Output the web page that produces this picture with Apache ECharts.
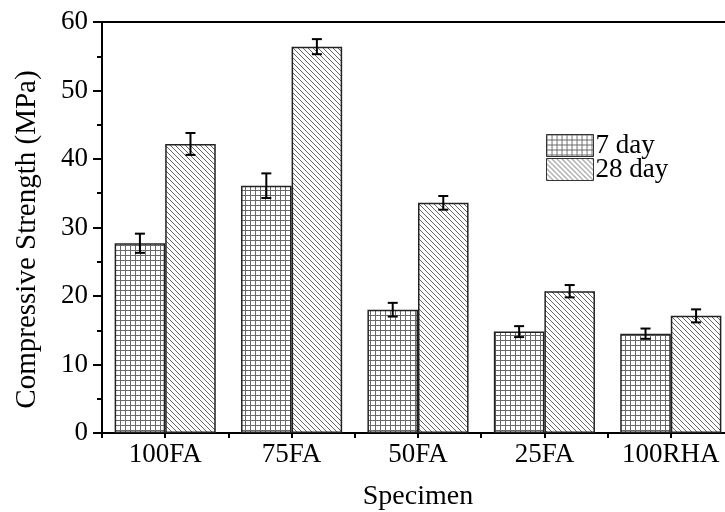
<!DOCTYPE html>
<html><head><meta charset="utf-8">
<script src="https://cdn.jsdelivr.net/npm/echarts@6/dist/echarts.min.js"></script>
<style>html,body{margin:0;padding:0;background:#fff}#c{width:725px;height:512px}</style>
</head><body><div id="c"></div>
<script>
const categories = ['100FA','75FA','50FA','25FA','100RHA'];
const seriesNames = ['7 day','28 day'];
const day7 = [27.7, 36.1, 18.0, 14.8, 14.5];
const day28 = [42.2, 56.4, 33.6, 20.7, 17.1];
const err7 = [1.4, 1.8, 1.0, 0.8, 0.75];
const err28 = [1.6, 1.1, 1.0, 0.9, 0.95];
const yTicks = [0, 10, 20, 30, 40, 50, 60];

function gridPattern(){
  const c = document.createElement('canvas'); c.width = 5; c.height = 5;
  const g = c.getContext('2d');
  g.fillStyle = '#fff'; g.fillRect(0,0,5,5);
  g.fillStyle = '#6a6a6a';
  g.fillRect(0,0,5,1); g.fillRect(0,0,1,5);
  return c;
}
function diagPattern(){
  const s = 5;
  const c = document.createElement('canvas'); c.width = s; c.height = s;
  const g = c.getContext('2d');
  g.fillStyle = '#fff'; g.fillRect(0,0,s,s);
  g.strokeStyle = '#666'; g.lineWidth = 1;
  g.beginPath();
  g.moveTo(-1,-1); g.lineTo(s+1,s+1);
  g.moveTo(-1,s-1); g.lineTo(1,s+1);
  g.moveTo(s-1,-1); g.lineTo(s+1,1);
  g.stroke();
  return c;
}
const pat7 = {image: gridPattern(), repeat: 'repeat'};
const pat28 = {image: diagPattern(), repeat: 'repeat'};

const font = 'Liberation Serif';
const chart = echarts.init(document.getElementById('c'));

function errSeries(vals, errs, sign){
  return {
    type: 'custom', xAxisIndex: 0, yAxisIndex: 0, z: 10, silent: true,
    data: vals.map((v,i)=>[i, v, errs[i]]),
    encode: {x: 0, y: 1},
    renderItem: function(params, api){
      const i = api.value(0), v = api.value(1), e = api.value(2);
      const bw = api.size([1,0])[0];
      const p = api.coord([i, v]);
      const x = p[0] + sign * bw * 0.2;
      const top = api.coord([i, v + e])[1];
      const bot = api.coord([i, v - e])[1];
      const cw = 5;
      const st = {stroke: '#000', lineWidth: 2};
      return {type: 'group', children: [
        {type: 'line', shape: {x1: x, y1: top, x2: x, y2: bot}, style: st},
        {type: 'line', shape: {x1: x-cw, y1: top, x2: x+cw, y2: top}, style: st},
        {type: 'line', shape: {x1: x-cw, y1: bot, x2: x+cw, y2: bot}, style: st}
      ]};
    }
  };
}

chart.setOption({
  animation: false,
  textStyle: {fontFamily: font, color: '#000'},
  grid: {left: 102, top: 22, width: 632, height: 411, outerBoundsMode: 'none', containLabel: false,
    show: true, borderColor: '#000', borderWidth: 2, backgroundColor: 'transparent'},
  legend: {
    data: seriesNames, orient: 'vertical', left: 541, top: 127, itemGap: -3,
    itemWidth: 47, itemHeight: 22, icon: 'rect',
    textStyle: {fontFamily: font, fontSize: 27, color: '#000', padding: [0,0,0,-3]},
    itemStyle: {borderColor: '#333', borderWidth: 1}
  },
  xAxis: [{
    type: 'category', data: categories,
    name: 'Specimen', nameLocation: 'middle', nameGap: 50,
    nameTextStyle: {fontFamily: font, fontSize: 28, color: '#000'},
    axisLine: {show: true, lineStyle: {color: '#000', width: 2}},
    axisTick: {show: true, alignWithLabel: true, interval: 0, length: 5, lineStyle: {color: '#000', width: 2}},
    axisLabel: {fontFamily: font, fontSize: 27, color: '#000', margin: 8, interval: 0, hideOverlap: false},
    splitLine: {show: false}
  },{
    type: 'category', data: categories, position: 'bottom',
    axisLine: {show: false},
    axisTick: {show: true, interval: 0, length: 5, lineStyle: {color: '#000', width: 2}},
    axisLabel: {show: false}, splitLine: {show: false}
  }],
  yAxis: {
    type: 'value', min: 0, max: 60, interval: 10,
    name: 'Compressive Strength (MPa)', nameLocation: 'middle', nameGap: 60,
    nameTextStyle: {fontFamily: font, fontSize: 29, color: '#000', padding: [0, 24, 0, 0]},
    axisLine: {show: true, lineStyle: {color: '#000', width: 2}},
    axisTick: {show: true, length: 9, lineStyle: {color: '#000', width: 2}},
    minorTick: {show: true, splitNumber: 2, length: 5, lineStyle: {color: '#000', width: 2}},
    axisLabel: {fontFamily: font, fontSize: 27, color: '#000', margin: 14,
      formatter: v => yTicks.includes(v) ? String(v) : ''},
    splitLine: {show: false}
  },
  series: [
    {name: seriesNames[0], type: 'bar', data: day7, barGap: '0%', barCategoryGap: '20%',
     itemStyle: {color: pat7, borderColor: '#222', borderWidth: 1.5}},
    {name: seriesNames[1], type: 'bar', data: day28, barGap: '0%', barCategoryGap: '20%',
     itemStyle: {color: pat28, borderColor: '#222', borderWidth: 1.5}},
    errSeries(day7, err7, -1),
    errSeries(day28, err28, 1)
  ]
});
</script></body></html>
